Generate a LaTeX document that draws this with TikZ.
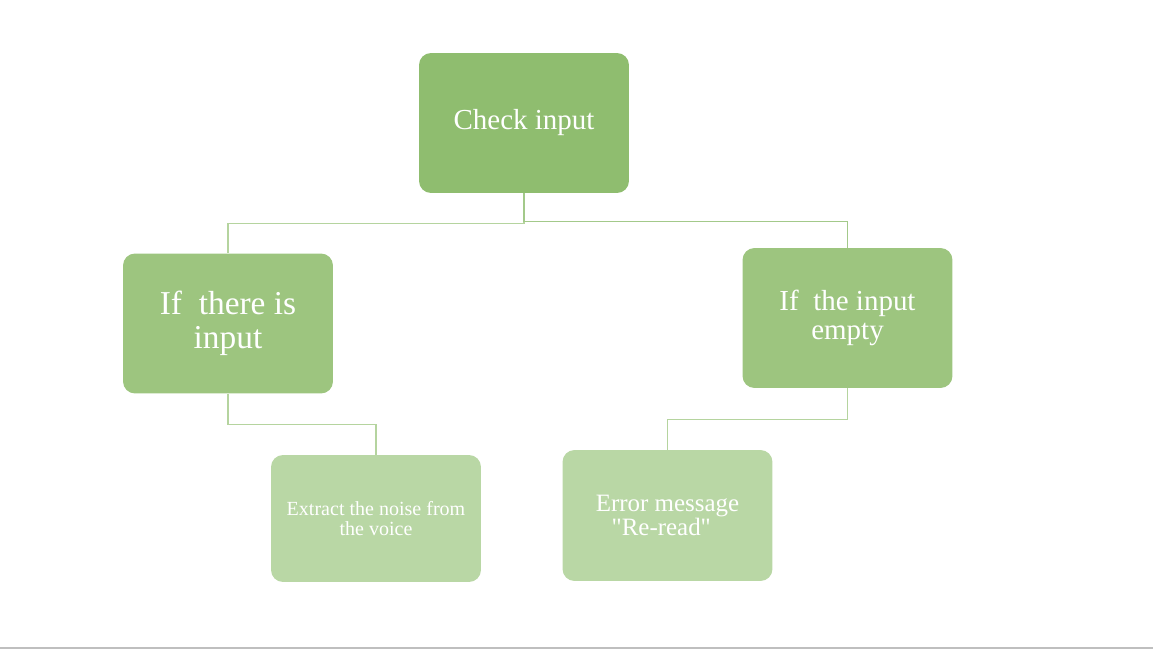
\documentclass[tikz,border=0pt]{standalone}
\usepackage{fontspec}
\setmainfont{Liberation Serif}[Ligatures=TeXOff]
\usepackage{tikz}
\definecolor{topgreen}{HTML}{8FBD6F}
\definecolor{midgreen}{HTML}{9DC57F}
\definecolor{lowgreen}{HTML}{B9D7A5}
\definecolor{lnleft}{HTML}{B5D49F}
\definecolor{lnright}{HTML}{A3C98A}
\tikzstyle{bx}=[rectangle,rounded corners=0.24cm,text=white,align=center,minimum width=4.2cm,minimum height=2.8cm,inner sep=2pt]
\tikzstyle{ln}=[line width=0.6pt]

\begin{document}
\begin{tikzpicture}[x=0.02cm,y=-0.02cm]
\useasboundingbox (0,0) rectangle (1153,650);
\node[bx,fill=topgreen,font=\fontsize{16.5}{18}\selectfont] (chk) at (524,123) {Check input};
\node[bx,fill=midgreen,font=\fontsize{19}{19.5}\selectfont] (yes) at (228,323.5) {If~~there is\\ input};
\node[bx,fill=midgreen,font=\fontsize{16.5}{16.5}\selectfont] (emp) at (847.5,318) {If~~the input\\ empty};
\node[bx,fill=lowgreen,minimum height=2.54cm,font=\fontsize{11.4}{11}\selectfont] (ext) at (376,518.5) {Extract the noise from\\ the voice};
\node[bx,fill=lowgreen,minimum height=2.62cm,font=\fontsize{14.2}{13.2}\selectfont] (err) at (667.5,515.5) {Error message\\ "Re-read"~~~};
\draw[ln,lnleft] (chk.south) -- ++(0,30) -| (yes.north);
\draw[ln,lnright] (chk.south) -- ++(0,28) -| (emp.north);
\draw[ln,lnleft] (yes.south) -- ++(0,31) -| (ext.north);
\draw[ln,lnleft] (emp.south) -- ++(0,31) -| (err.north);
\draw[line width=0.8pt,black!25] (0,648) -- (1153,648);
\end{tikzpicture}
\end{document}
